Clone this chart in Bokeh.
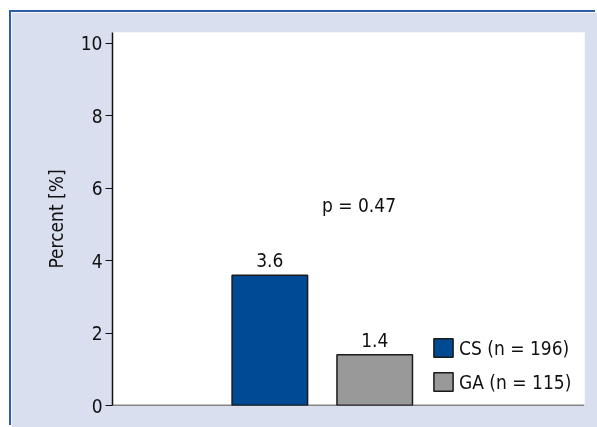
from bokeh.plotting import figure
from bokeh.models import Range1d, Span, Label, ColumnDataSource, Legend, LegendItem
from bokeh.core.properties import value
from bokeh.embed import file_html
from bokeh.resources import INLINE

# data
groups = ["CS (n = 196)", "GA (n = 115)"]
positions = [1.5, 2.5]
percent = [3.6, 1.4]
bar_colors = ["#004a93", "#999999"]
y_ticks = [0, 2, 4, 6, 8, 10]
p_text = "p = 0.47"

FONT = "'Liberation Sans Narrow', 'DejaVu Sans Condensed', sans-serif"
BG = "#dadff0"
INK = "#111111"

p = figure(width=586, height=415, output_backend="svg", toolbar_location=None,
           x_range=Range1d(0, 4.5), y_range=Range1d(0, 10.3),
           min_border_left=101, min_border_top=20, min_border_right=13, min_border_bottom=22)
p.styles = {"position": "fixed", "left": "11px", "top": "12px",
            "box-shadow": "-2px -2px 0 0 #2d5fa6"}
p.background_fill_color = "white"
p.border_fill_color = BG
p.outline_line_color = None
p.grid.visible = False
p.xaxis.visible = False

src = ColumnDataSource(dict(x=positions, top=percent, color=bar_colors, label=groups,
                            txt=[f"{v:.1f}" for v in percent]))
r = p.vbar(x="x", top="top", width=0.72, source=src, fill_color="color",
           line_color="#1a1a1a", line_width=1.5)
p.text(x="x", y="top", text="txt", source=src, y_offset=-8,
       text_align="center", text_baseline="bottom", text_font=value(FONT),
       text_font_size="19px", text_color=INK)

p.add_layout(Span(location=0, dimension="width", line_color=INK, line_width=1.5))

p.add_layout(Label(x=2.35, y=5.55, text=p_text, text_align="center", text_baseline="middle",
                   text_font=FONT, text_font_size="19px", text_color=INK))

ax = p.yaxis[0]
ax.ticker = y_ticks
ax.axis_label = "Percent [%]"
ax.axis_label_text_font = FONT
ax.axis_label_text_font_style = "normal"
ax.axis_label_text_font_size = "19px"
ax.axis_label_text_color = INK
ax.axis_label_standoff = 11
ax.major_label_text_font = FONT
ax.major_label_text_font_size = "19px"
ax.major_label_text_color = INK
ax.major_label_standoff = 3
ax.major_tick_out = 7
ax.major_tick_in = 0
ax.minor_tick_line_color = None
ax.axis_line_width = 1.5
ax.axis_line_color = INK
ax.major_tick_line_color = INK
ax.major_tick_line_width = 1.2

legend = Legend(items=[LegendItem(label=groups[i], renderers=[r], index=i) for i in range(len(groups))],
                location=(319, 12), glyph_width=24, glyph_height=23, label_height=23,
                spacing=11, padding=0, margin=0, label_standoff=4,
                background_fill_alpha=0, border_line_color=None,
                label_text_font=FONT, label_text_font_size="19px", label_text_color=INK)
p.add_layout(legend, "center")

open("out.html", "w").write(file_html(p, INLINE))
